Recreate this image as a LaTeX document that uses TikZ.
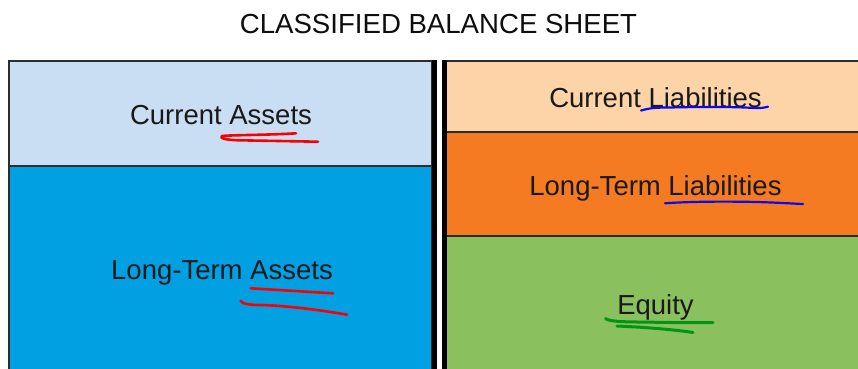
\documentclass[tikz,border=0pt]{standalone}
\usepackage{fontspec}
\setmainfont{Liberation Sans}
\definecolor{caLight}{RGB}{201,222,242}
\definecolor{ltaBlue}{RGB}{0,160,227}
\definecolor{clPeach}{RGB}{252,212,168}
\definecolor{ltlOrange}{RGB}{244,123,33}
\definecolor{eqGreen}{RGB}{139,192,94}
\definecolor{edgeGray}{RGB}{45,45,45}
\definecolor{inkRed}{RGB}{250,0,0}
\definecolor{inkBlue}{RGB}{10,10,235}
\definecolor{inkGreen}{RGB}{0,150,20}
\begin{document}
\begin{tikzpicture}[x=1pt,y=-1pt,
  panel/.style={draw=edgeGray,line width=1.2pt},
  label/.style={anchor=base,inner sep=0pt,font=\fontsize{27.5}{30}\selectfont,text=black!90},
  ink/.style={line width=2.6pt,line cap=round,line join=round}]
\useasboundingbox (0,0) rectangle (858,368);
\clip (0,0) rectangle (858,368);

% title
\node[anchor=base,inner sep=0pt,font=\fontsize{27.6}{30}\selectfont,text=black!95] (title) at (438.5,33) {CLASSIFIED BALANCE SHEET};

% assets column
\path[panel,fill=caLight] (9,61) rectangle (432,166);
\path[panel,fill=ltaBlue] (9,166) rectangle (432,380);

% liabilities and equity column
\path[panel,fill=clPeach] (446,61) rectangle (870,132);
\path[panel,fill=ltlOrange] (446,132) rectangle (870,236);
\path[panel,fill=eqGreen] (446,236) rectangle (870,380);

% double rule between the columns
\fill[black] (432,60.4) rectangle (436.5,380);
\fill[black] (441.5,60.4) rectangle (446.5,380);

% labels
\node[label] (ca) at (221,124) {Current Assets};
\node[label] (lta) at (222,279) {Long-Term Assets};
\node[label] (cl) at (655.5,107) {Current Liabilities};
\node[label] (ltl) at (655.5,195) {Long-Term Liabilities};
\node[label] (eq) at (655.5,314) {Equity};

% hand-drawn underlines
\draw[ink,draw=inkRed] (296,133.3) .. controls (270,135) and (230,135) .. (222,136)
  .. controls (219,138) and (225,140) .. (240,140.3) -- (318,141.7);
\draw[ink,draw=inkRed] (250.7,288.3) .. controls (280,290) and (310,292) .. (333,293.3);
\draw[ink,draw=inkRed] (240.5,300.7) .. controls (242,304) and (250,305) .. (262,305)
  .. controls (290,306) and (320,310) .. (347,314.7);
\draw[ink,draw=inkBlue,line width=2.2pt] (641,110.5) .. controls (650,108) and (655,107.5) .. (670,107.5)
  .. controls (710,106.5) and (740,107) .. (754,108) .. controls (760,108.5) and (765,107.5) .. (768,106.7);
\draw[ink,draw=inkBlue,line width=2.2pt] (665,203.3) .. controls (690,201.5) and (720,201.5) .. (740,201.7)
  .. controls (770,202) and (790,203.5) .. (803,204);
\draw[ink,draw=inkGreen,line width=3pt] (605.5,318.5) .. controls (608,321) and (620,322) .. (640,322)
  .. controls (670,322.5) and (700,323) .. (713,322.5);
\draw[ink,draw=inkGreen,line width=3pt] (617,326) .. controls (640,327) and (670,329) .. (693,332.5);
\end{tikzpicture}
\end{document}
